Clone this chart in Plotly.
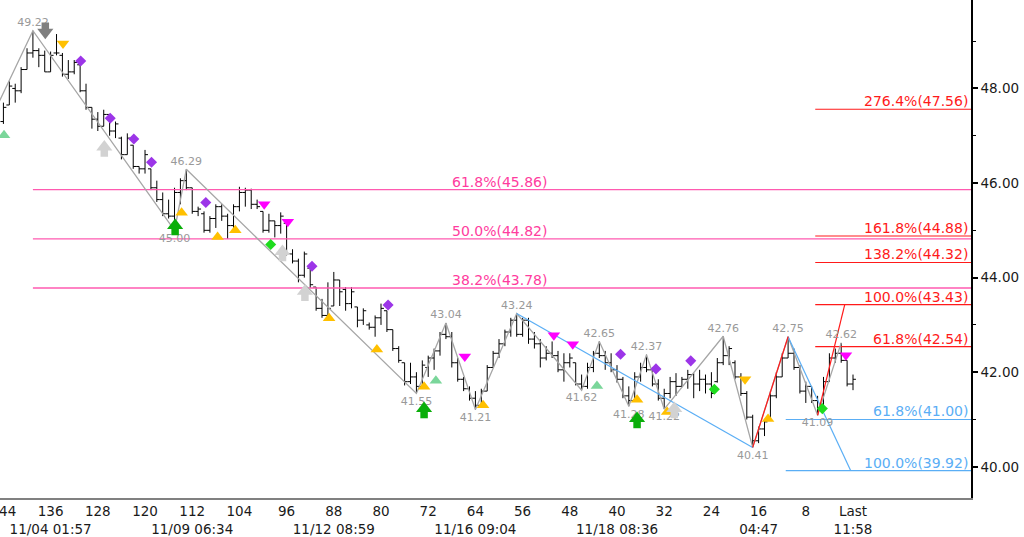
import plotly.graph_objects as go

# ---------------- data ----------------
bars_back = list(range(144, -1, -1))   # bars counted back from the last bar

open_ = [47.30, 47.65, 48.00, 47.95, 48.40, 48.75, 48.80, 48.70, 48.35, 48.75,
         48.70, 48.30, 48.35, 48.50, 47.95, 47.60, 47.35, 47.20, 47.45, 47.10,
         46.95, 46.60, 46.80, 46.35, 46.30, 46.30, 45.90, 45.65, 45.35, 45.30,
         45.80, 46.05, 45.90, 45.40, 45.35, 45.00, 45.25, 45.50, 45.30, 45.10,
         45.50, 45.80, 45.85, 45.55, 45.40, 45.00, 45.20, 45.10, 45.15, 44.50,
         44.35, 44.05, 44.20, 43.80, 43.35, 43.20, 43.40, 43.95, 43.75, 43.45,
         43.38, 43.10, 43.00, 42.95, 43.15, 43.30, 42.90, 42.50, 42.20, 41.80,
         41.90, 41.70, 42.10, 42.30, 42.45, 42.80, 42.75, 42.20, 41.85, 41.65,
         41.45, 41.30, 41.60, 42.10, 42.40, 42.60, 42.85, 43.10, 42.80, 43.10,
         42.70, 42.60, 42.30, 42.40, 42.35, 42.05, 42.20, 42.20, 41.75, 41.70,
         42.10, 42.40, 42.35, 42.20, 42.05, 41.85, 41.50, 41.40, 41.90, 42.10,
         42.05, 41.75, 41.45, 41.55, 41.80, 41.70, 41.85, 41.95, 41.75, 41.85,
         41.75, 41.80, 42.20, 42.35, 42.20, 41.90, 41.55, 41.05, 40.55, 40.80,
         41.05, 41.50, 41.90, 42.30, 42.40, 42.10, 41.60, 41.70, 41.40, 41.25,
         41.80, 42.30, 42.40, 42.25, 41.75]
high = [47.70, 48.15, 48.10, 48.45, 48.85, 49.22, 48.85, 48.80, 48.78, 49.15,
        48.75, 48.60, 48.60, 48.55, 48.10, 47.60, 47.50, 47.55, 47.45, 47.30,
        46.98, 47.05, 46.80, 46.35, 46.70, 46.30, 46.05, 45.80, 45.65, 45.90,
        46.10, 46.29, 45.90, 45.50, 45.40, 45.30, 45.55, 45.55, 45.35, 45.55,
        45.92, 45.90, 45.88, 45.65, 45.40, 45.35, 45.20, 45.38, 45.15, 44.60,
        44.40, 44.55, 44.20, 43.80, 43.55, 43.90, 44.12, 43.95, 43.80, 43.80,
        43.38, 43.35, 43.05, 43.20, 43.45, 43.30, 42.90, 42.55, 42.20, 42.20,
        42.00, 42.25, 42.35, 42.50, 42.85, 43.04, 42.85, 42.30, 41.90, 41.70,
        41.60, 41.65, 42.15, 42.45, 42.70, 42.90, 43.15, 43.24, 43.15, 43.15,
        42.85, 42.70, 42.55, 42.65, 42.45, 42.40, 42.40, 42.20, 41.95, 42.20,
        42.45, 42.65, 42.45, 42.40, 42.15, 41.90, 41.70, 42.00, 42.20, 42.37,
        42.10, 41.85, 41.65, 41.90, 41.98, 41.90, 42.05, 41.98, 42.05, 41.95,
        42.00, 42.30, 42.76, 42.55, 42.25, 41.98, 41.60, 41.10, 40.85, 41.00,
        41.60, 42.00, 42.40, 42.75, 42.50, 42.15, 41.80, 41.70, 41.50, 41.90,
        42.40, 42.50, 42.62, 42.25, 41.95]
low = [47.25, 47.65, 47.70, 47.90, 48.40, 48.65, 48.45, 48.35, 48.35, 48.70,
       48.25, 48.20, 48.30, 47.92, 47.55, 47.15, 47.10, 47.20, 47.00, 46.95,
       46.50, 46.60, 46.30, 46.20, 46.20, 45.85, 45.60, 45.30, 45.25, 45.00,
       45.55, 45.85, 45.35, 45.30, 44.95, 44.95, 45.05, 45.20, 44.82, 45.05,
       45.40, 45.50, 45.45, 45.45, 44.95, 44.95, 44.85, 44.93, 44.47, 44.30,
       43.90, 44.00, 43.78, 43.30, 43.15, 43.15, 43.40, 43.40, 43.30, 43.35,
       42.95, 43.00, 42.90, 42.75, 43.00, 42.85, 42.45, 42.20, 41.72, 41.75,
       41.55, 41.70, 41.90, 42.05, 42.35, 42.70, 42.10, 41.80, 41.60, 41.40,
       41.21, 41.25, 41.60, 42.10, 42.30, 42.55, 42.75, 42.75, 42.75, 42.60,
       42.50, 42.10, 42.25, 42.30, 42.00, 41.80, 42.10, 41.72, 41.62, 41.65,
       42.00, 42.30, 42.05, 42.00, 41.78, 41.45, 41.28, 41.40, 41.80, 42.00,
       41.70, 41.40, 41.22, 41.45, 41.50, 41.70, 41.65, 41.45, 41.60, 41.55,
       41.45, 41.78, 42.15, 42.15, 41.85, 41.50, 41.00, 40.41, 40.50, 40.65,
       41.00, 41.45, 41.90, 42.30, 42.05, 41.55, 41.35, 41.35, 41.09, 41.20,
       41.80, 42.20, 42.20, 41.70, 41.62]
close = [47.60, 48.05, 47.95, 48.40, 48.75, 48.80, 48.70, 48.35, 48.70, 48.75,
         48.30, 48.35, 48.55, 47.95, 47.60, 47.35, 47.20, 47.45, 47.10, 47.25,
         46.60, 46.95, 46.35, 46.30, 46.60, 45.90, 45.65, 45.35, 45.30, 45.80,
         46.05, 45.90, 45.40, 45.45, 45.00, 45.25, 45.50, 45.30, 45.10, 45.50,
         45.80, 45.85, 45.55, 45.50, 45.00, 45.20, 45.10, 45.30, 44.50, 44.35,
         44.05, 44.50, 43.85, 43.35, 43.20, 43.35, 43.95, 43.70, 43.45, 43.70,
         43.10, 43.30, 42.95, 43.15, 43.35, 42.90, 42.50, 42.25, 41.80, 41.90,
         41.70, 42.15, 42.30, 42.45, 42.80, 42.75, 42.20, 41.85, 41.65, 41.45,
         41.30, 41.60, 42.10, 42.40, 42.60, 42.85, 43.10, 42.80, 43.10, 42.70,
         42.60, 42.30, 42.40, 42.35, 42.05, 42.20, 42.30, 41.75, 41.70, 42.10,
         42.40, 42.35, 42.20, 42.05, 41.85, 41.50, 41.40, 41.90, 42.10, 42.05,
         41.75, 41.45, 41.55, 41.80, 41.70, 41.85, 41.95, 41.75, 41.85, 41.75,
         41.55, 42.20, 42.35, 42.50, 41.90, 41.55, 41.05, 40.55, 40.80, 40.95,
         41.50, 41.90, 42.30, 42.40, 42.10, 41.60, 41.70, 41.40, 41.25, 41.80,
         42.30, 42.40, 42.25, 41.75, 41.85]

# zigzag swing pivots (bars back, price, is_high)
zig_back = [146, 139, 115, 113, 74, 69, 64, 57, 46, 43, 38, 35, 32, 22, 17, 11, 6, 2]
zig_price = [47.38, 49.22, 45.00, 46.29, 41.55, 43.04, 41.21, 43.24, 41.62, 42.65,
             41.28, 42.37, 41.22, 42.76, 40.41, 42.75, 41.09, 42.62]
zig_high = [False, True, False, True, False, True, False, True, False, True,
            False, True, False, True, False, True, False, True]

# projection legs
red_legs_back = [[17, 11], [6, 1.4]]
red_legs_price = [[40.41, 42.75], [41.09, 43.43]]
blue_legs_back = [[57, 17], [11, 0.4]]
blue_legs_price = [[43.24, 40.41], [42.75, 39.92]]

# Fibonacci levels
retr_pct = ["61.8%", "50.0%", "38.2%"]
retr_lvl = [45.86, 44.82, 43.78]
retr_from = 139
ext_pct = ["276.4%", "161.8%", "138.2%", "100.0%", "61.8%"]
ext_lvl = [47.56, 44.88, 44.32, 43.43, 42.54]
ext_from = 6.4
proj_pct = ["61.8%", "100.0%"]
proj_lvl = [41.00, 39.92]
proj_from = 11.4

# signal markers (bars back, price)
yellow_up_back = [113.8, 107.7, 104.7, 88.8, 80.7, 72.7, 62.7, 36.6, 31.5, 14.4]
yellow_up_price = [45.37, 44.86, 45.00, 43.14, 42.48, 41.69, 41.30, 41.42, 41.16, 41.01]
yellow_dn_back = [133.9, 18.3]
yellow_dn_price = [48.95, 41.85]
lgreen_up_back = [143.9, 70.7, 43.4]
lgreen_up_price = [47.01, 41.82, 41.71]
magenta_dn_back = [99.8, 95.8, 65.8, 50.7, 47.5, 1.2]
magenta_dn_price = [45.55, 45.18, 42.33, 42.78, 42.59, 42.36]
purple_back = [130.9, 125.9, 121.9, 118.9, 109.7, 91.7, 78.8, 39.4, 33.4, 27.5]
purple_price = [48.58, 47.37, 46.93, 46.44, 45.59, 44.24, 43.42, 42.38, 42.07, 42.24]
green_dia_back = [98.7, 23.5, 5.2]
green_dia_price = [44.70, 41.64, 41.23]
green_arrow_back = [114.9, 72.7, 36.6]
green_arrow_price = [45.07, 41.20, 40.99]
lgray_arrow_back = [126.9, 96.7, 92.9, 30.3]
lgray_arrow_price = [46.73, 44.52, 43.68, 41.20]
dgray_arrow_back = [136.9]
dgray_arrow_price = [49.22]

# axis ticks
x_tick_back = [144, 136, 128, 120, 112, 104, 96, 88, 80, 72, 64, 56, 48, 40, 32, 24, 16, 8, 0]
x_tick_num = ["144", "136", "128", "120", "112", "104", "96", "88", "80", "72", "64",
              "56", "48", "40", "32", "24", "16", "8", "Last"]
x_tick_date = ["", "11/04 01:57", "", "", "11/09 06:34", "", "", "11/12 08:59", "", "",
               "11/16 09:04", "", "", "11/18 08:36", "", "", "04:47", "", "11:58"]
y_ticks = [40, 42, 44, 46, 48]

# ---------------- layout constants ----------------
W, H = 1024, 537
ML, MR, MT, MB = 0, 53, 0, 39
X_RANGE = [-144.58, 20.0]
Y_RANGE = [39.34, 49.87]
PPU = (H - MT - MB) / (Y_RANGE[1] - Y_RANGE[0])   # pixels per price unit
FONT = "DejaVu Sans"

def neg(lst):
    return [-v for v in lst]

fig = go.Figure()

PINK = "#FF3C9E"
RED = "#FF1A1A"
BLUE = "#5AAEF5"

# horizontal fib lines
for lvl in retr_lvl:
    fig.add_trace(go.Scatter(x=[-retr_from, X_RANGE[1]], y=[lvl, lvl], mode="lines",
                             line=dict(color="#FF5AB0", width=1.3), hoverinfo="skip"))
for lvl in ext_lvl:
    fig.add_trace(go.Scatter(x=[-ext_from, X_RANGE[1]], y=[lvl, lvl], mode="lines",
                             line=dict(color=RED, width=1.2), hoverinfo="skip"))
for lvl in proj_lvl:
    fig.add_trace(go.Scatter(x=[-proj_from, X_RANGE[1]], y=[lvl, lvl], mode="lines",
                             line=dict(color=BLUE, width=1.2), hoverinfo="skip"))

# zigzag
fig.add_trace(go.Scatter(x=neg(zig_back), y=zig_price, mode="lines",
                         line=dict(color="#A6A6A6", width=1.3), hoverinfo="skip"))
for bx, py in zip(blue_legs_back, blue_legs_price):
    fig.add_trace(go.Scatter(x=neg(bx), y=py, mode="lines",
                             line=dict(color=BLUE, width=1.2), hoverinfo="skip"))
for bx, py in zip(red_legs_back, red_legs_price):
    fig.add_trace(go.Scatter(x=neg(bx), y=py, mode="lines",
                             line=dict(color=RED, width=1.2), hoverinfo="skip"))

# OHLC bars
fig.add_trace(go.Ohlc(x=neg(bars_back), open=open_, high=high, low=low, close=close,
                      increasing=dict(line=dict(color="black", width=1)),
                      decreasing=dict(line=dict(color="black", width=1)),
                      tickwidth=0.5, hoverinfo="skip"))

# pivot labels
lab_x, lab_y, lab_t = [], [], []
for b, p, hi in zip(zig_back[1:], zig_price[1:], zig_high[1:]):
    lab_x.append(-b)
    lab_y.append(p + (7.5 if hi else -8.5) / PPU)
    lab_t.append(f"{p:.2f}")
fig.add_trace(go.Scatter(x=lab_x, y=lab_y, mode="text", text=lab_t,
                         textposition="middle center",
                         textfont=dict(family=FONT, size=11, color="#999999"),
                         hoverinfo="skip"))

def sym(xs, ys, symbol, color, size):
    fig.add_trace(go.Scatter(x=neg(xs), y=ys, mode="markers",
                             marker=dict(symbol=symbol, color=color, size=size,
                                         line=dict(width=0)),
                             hoverinfo="skip"))

def arrows(xs, ys, color, up=True):
    d = 1 if up else -1
    head_y = [v + d * 1.5 / PPU for v in ys]
    shaft_y = [v - d * 4.5 / PPU for v in ys]
    sym(xs, shaft_y, "square", color, 7.5)
    sym(xs, head_y, "triangle-up" if up else "triangle-down", color, 14)

sym(yellow_up_back, yellow_up_price, "triangle-up", "#FFC000", 11)
sym(yellow_dn_back, yellow_dn_price, "triangle-down", "#FFC000", 11)
sym(lgreen_up_back, lgreen_up_price, "triangle-up", "#7AD69A", 11)
sym(magenta_dn_back, magenta_dn_price, "triangle-down", "#FF00FF", 11)
sym(purple_back, purple_price, "diamond", "#9C35E8", 8.5)
sym(green_dia_back, green_dia_price, "diamond", "#1EDC1E", 8.5)
arrows(green_arrow_back, green_arrow_price, "#0AAE0A", up=True)
arrows(lgray_arrow_back, lgray_arrow_price, "#D2D2D2", up=True)
arrows(dgray_arrow_back, dgray_arrow_price, "#7F7F7F", up=False)

# fib labels
ann = []
for pct, lvl in zip(retr_pct, retr_lvl):
    ann.append(dict(x=-60, y=lvl, text=f"{pct}({lvl:.2f})", showarrow=False,
                    xanchor="center", yanchor="bottom", yshift=-2,
                    font=dict(family=FONT, size=14, color=PINK)))
for pct, lvl in zip(ext_pct, ext_lvl):
    ann.append(dict(x=X_RANGE[1], y=lvl, text=f"{pct}({lvl:.2f})", showarrow=False,
                    xanchor="right", yanchor="bottom", xshift=-1, yshift=-2,
                    font=dict(family=FONT, size=14, color=RED)))
for pct, lvl in zip(proj_pct, proj_lvl):
    ann.append(dict(x=X_RANGE[1], y=lvl, text=f"{pct}({lvl:.2f})", showarrow=False,
                    xanchor="right", yanchor="bottom", xshift=-1, yshift=-2,
                    font=dict(family=FONT, size=14, color=BLUE)))

x_text = [n if not d else f"{n}<br>{d}" for n, d in zip(x_tick_num, x_tick_date)]

fig.update_layout(
    width=W, height=H, margin=dict(l=ML, r=MR, t=MT, b=MB),
    paper_bgcolor="white", plot_bgcolor="white", showlegend=False,
    annotations=ann,
    xaxis=dict(range=X_RANGE, rangeslider=dict(visible=False), showgrid=False,
               zeroline=False, showline=True, linecolor="#808080", linewidth=2,
               tickvals=neg(x_tick_back), ticktext=x_text, ticks="", tickangle=0,
               ticklabeloverflow="allow",
               tickfont=dict(family=FONT, size=13.5, color="#1a1a1a"),
               automargin=False),
    yaxis=dict(range=Y_RANGE, side="right", showgrid=False, zeroline=False,
               showline=True, linecolor="black", linewidth=1.5,
               tickvals=y_ticks, ticktext=[f"{v:.2f}" for v in y_ticks],
               ticks="outside", ticklen=5, tickwidth=2, tickcolor="black",
               minor=dict(tickvals=[41, 43, 45, 47, 49], ticks="outside", ticklen=3,
                          tickwidth=1, tickcolor="black"),
               tickfont=dict(family=FONT, size=13.5, color="#1a1a1a"),
               automargin=False),
)

fig.write_html("out.html")
